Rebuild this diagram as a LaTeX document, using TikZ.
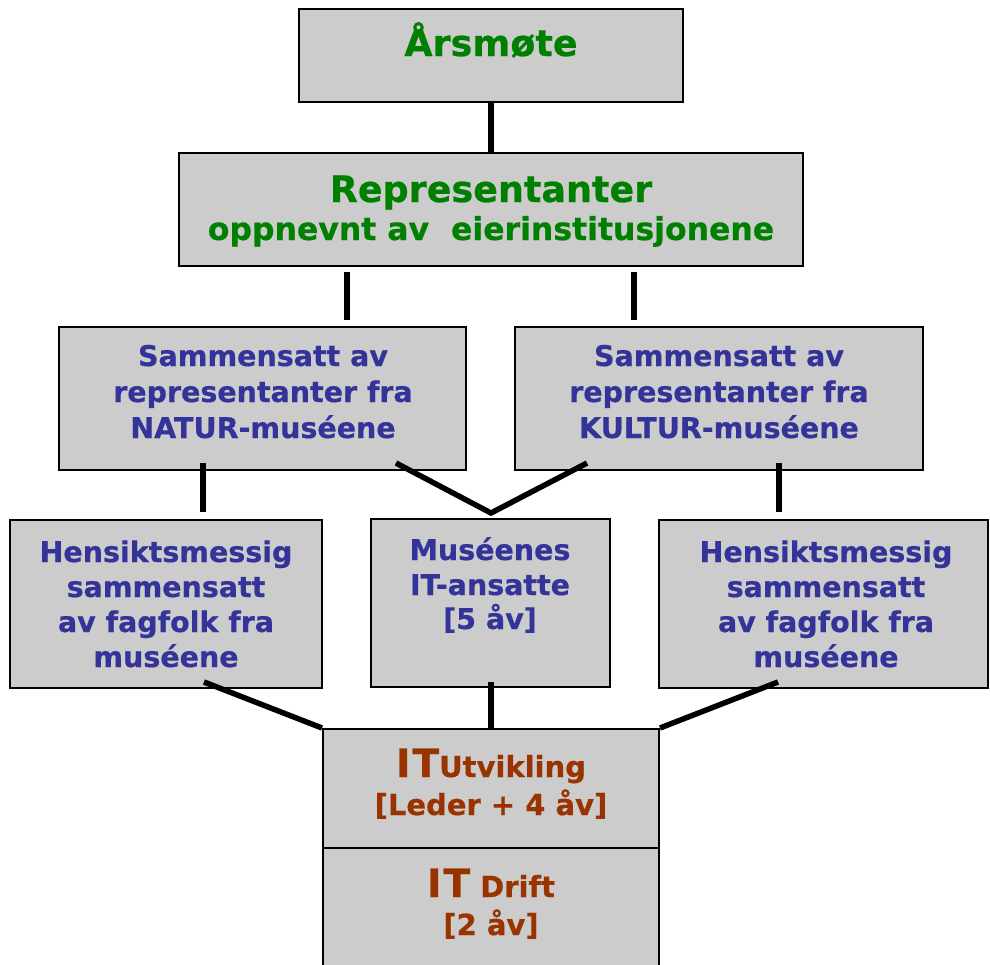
\documentclass[tikz,border=0pt]{standalone}
\usepackage{fontspec}
\setmainfont{DejaVu Sans}[BoldFeatures={FakeBold=0.6}]
\definecolor{grn}{RGB}{0,128,0}
\definecolor{blu}{RGB}{51,51,153}
\definecolor{brn}{RGB}{153,51,0}
\definecolor{boxgray}{RGB}{204,204,204}
\tikzset{
  box/.style={draw=black, line width=2pt, fill=boxgray, inner sep=0pt},
  conn/.style={draw=black, line width=5.5pt},
  greenbig/.style={anchor=base, text=grn, inner sep=0pt, font=\bfseries\fontsize{36.5}{40}\selectfont},
  greensmall/.style={anchor=base, text=grn, inner sep=0pt, font=\bfseries\fontsize{31.5}{34}\selectfont},
  bluetext/.style={anchor=base, text=blu, inner sep=0pt, font=\bfseries\fontsize{28.5}{32}\selectfont},
  browntext/.style={anchor=base, text=brn, inner sep=0pt, font=\bfseries\fontsize{29}{32}\selectfont},
}
\newcommand{\bigIT}{{\fontsize{39}{40}\selectfont I\kern2pt T}}
\begin{document}
\begin{tikzpicture}[x=1pt,y=-1pt]
\useasboundingbox (0,0) rectangle (990,964);
\clip (0,0) rectangle (990,964);
% boxes
\node[box, minimum width=384, minimum height=93] (aars) at (491,55.5) {};
\node[box, minimum width=624, minimum height=113] (rep) at (491,209.5) {};
\node[box, minimum width=407, minimum height=143] (natur) at (262.5,398.5) {};
\node[box, minimum width=408, minimum height=143] (kultur) at (719,398.5) {};
\node[box, minimum width=312, minimum height=168] (hl) at (166,604) {};
\node[box, minimum width=239, minimum height=168] (mus) at (490.5,603) {};
\node[box, minimum width=329, minimum height=168] (hr) at (823.5,604) {};
\node[box, minimum width=336, minimum height=119] (itu) at (491,788.5) {};
\node[box, minimum width=336, minimum height=160] (itd) at (491,928) {};
% texts
\node[greenbig] (taars) at (491,56) {Årsmøte};
\node[greenbig] (trep1) at (491,202) {Representanter};
\node[greensmall] (trep2) at (491,240) {oppnevnt av~~eierinstitusjonene};
\node[bluetext] (tn1) at (263,366) {Sammensatt av};
\node[bluetext] (tn2) at (263,402) {representanter fra};
\node[bluetext] (tn3) at (263,438) {NATUR-muséene};
\node[bluetext] (tk1) at (719,366) {Sammensatt av};
\node[bluetext] (tk2) at (719,402) {representanter fra};
\node[bluetext] (tk3) at (719,438) {KULTUR-muséene};
\node[bluetext] (thl1) at (166,562) {Hensiktsmessig};
\node[bluetext] (thl2) at (166,597) {sammensatt};
\node[bluetext] (thl3) at (166,632) {av fagfolk fra};
\node[bluetext] (thl4) at (166,667) {muséene};
\node[bluetext] (tm1) at (490,560) {Muséenes};
\node[bluetext] (tm2) at (490,595) {IT-ansatte};
\node[bluetext] (tm3) at (490,629) {[5 åv]};
\node[bluetext] (thr1) at (826,562) {Hensiktsmessig};
\node[bluetext] (thr2) at (826,597) {sammensatt};
\node[bluetext] (thr3) at (826,632) {av fagfolk fra};
\node[bluetext] (thr4) at (826,667) {muséene};
\node[browntext] (tu1) at (491,777) {\bigIT Utvikling};
\node[browntext] (tu2) at (491,815) {[Leder + 4 åv]};
\node[browntext] (td1) at (491,897) {\bigIT\ Drift};
\node[browntext] (td2) at (491,935) {[2 åv]};
% connector end points
\coordinate (r1a) at (347,272); \coordinate (r1b) at (347,320);
\coordinate (r2a) at (634,272); \coordinate (r2b) at (634,320);
\coordinate (n1a) at (203,463); \coordinate (n1b) at (203,512);
\coordinate (k1a) at (779,463); \coordinate (k1b) at (779,512);
\coordinate (nva) at (396,463); \coordinate (vtip) at (491,513); \coordinate (kva) at (587,463);
\coordinate (hla) at (204,682); \coordinate (ma) at (491,682); \coordinate (hra) at (778,682);
% connectors
\draw[conn] (aars.south) -- (rep.north);
\draw[conn] (r1a) -- (r1b);
\draw[conn] (r2a) -- (r2b);
\draw[conn] (n1a) -- (n1b);
\draw[conn] (k1a) -- (k1b);
\draw[conn, line join=miter] (nva) -- (vtip) -- (kva);
\draw[conn] (hla) -- (itu.north west);
\draw[conn] (ma) -- (itu.north);
\draw[conn] (hra) -- (itu.north east);
\end{tikzpicture}
\end{document}
